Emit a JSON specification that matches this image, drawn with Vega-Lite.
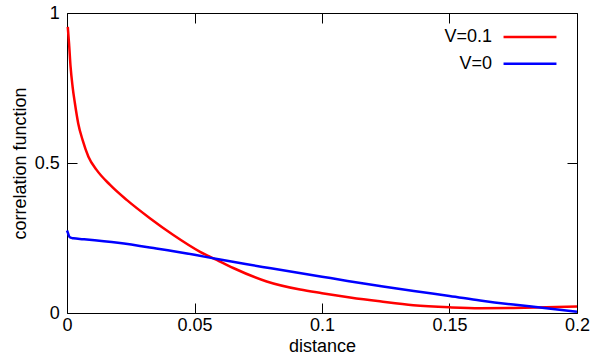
{
  "$schema": "https://vega.github.io/schema/vega-lite/v6.json",
  "width": 510,
  "height": 300,
  "autosize": {"type": "none"},
  "padding": {"left": 67, "top": 13, "right": 15, "bottom": 41},
  "background": "white",
  "config": {
    "view": {"stroke": "black", "strokeWidth": 1},
    "font": "Liberation Sans",
    "axis": {
      "grid": false,
      "domain": false,
      "tickColor": "black",
      "tickSize": -10,
      "tickWidth": 1,
      "labelColor": "black",
      "labelFontSize": 18,
      "labelFont": "Liberation Sans",
      "titleFontSize": 18,
      "titleFont": "Liberation Sans",
      "titleFontWeight": "normal",
      "titleColor": "black"
    }
  },
  "data": {
    "values": [
      {"distance": 0.0003, "value": 0.954, "series": "V=0.1"},
      {"distance": 0.0008, "value": 0.899, "series": "V=0.1"},
      {"distance": 0.0014, "value": 0.821, "series": "V=0.1"},
      {"distance": 0.0022, "value": 0.754, "series": "V=0.1"},
      {"distance": 0.0031, "value": 0.699, "series": "V=0.1"},
      {"distance": 0.0044, "value": 0.632, "series": "V=0.1"},
      {"distance": 0.0061, "value": 0.577, "series": "V=0.1"},
      {"distance": 0.0084, "value": 0.521, "series": "V=0.1"},
      {"distance": 0.0116, "value": 0.477, "series": "V=0.1"},
      {"distance": 0.0169, "value": 0.427, "series": "V=0.1"},
      {"distance": 0.0234, "value": 0.377, "series": "V=0.1"},
      {"distance": 0.0325, "value": 0.316, "series": "V=0.1"},
      {"distance": 0.0417, "value": 0.26, "series": "V=0.1"},
      {"distance": 0.0522, "value": 0.204, "series": "V=0.1"},
      {"distance": 0.0587, "value": 0.177, "series": "V=0.1"},
      {"distance": 0.0652, "value": 0.15, "series": "V=0.1"},
      {"distance": 0.0783, "value": 0.105, "series": "V=0.1"},
      {"distance": 0.0914, "value": 0.078, "series": "V=0.1"},
      {"distance": 0.1, "value": 0.066, "series": "V=0.1"},
      {"distance": 0.111, "value": 0.052, "series": "V=0.1"},
      {"distance": 0.1227, "value": 0.039, "series": "V=0.1"},
      {"distance": 0.1358, "value": 0.026, "series": "V=0.1"},
      {"distance": 0.15, "value": 0.019, "series": "V=0.1"},
      {"distance": 0.162, "value": 0.016, "series": "V=0.1"},
      {"distance": 0.175, "value": 0.017, "series": "V=0.1"},
      {"distance": 0.188, "value": 0.019, "series": "V=0.1"},
      {"distance": 0.2, "value": 0.022, "series": "V=0.1"},
      {"distance": 0, "value": 0.275, "series": "V=0"},
      {"distance": 0.0004, "value": 0.266, "series": "V=0"},
      {"distance": 0.0008, "value": 0.256, "series": "V=0"},
      {"distance": 0.0014, "value": 0.251, "series": "V=0"},
      {"distance": 0.0025, "value": 0.249, "series": "V=0"},
      {"distance": 0.0064, "value": 0.246, "series": "V=0"},
      {"distance": 0.02, "value": 0.234, "series": "V=0"},
      {"distance": 0.035, "value": 0.215, "series": "V=0"},
      {"distance": 0.05, "value": 0.194, "series": "V=0"},
      {"distance": 0.06, "value": 0.178, "series": "V=0"},
      {"distance": 0.07, "value": 0.163, "series": "V=0"},
      {"distance": 0.08, "value": 0.149, "series": "V=0"},
      {"distance": 0.09, "value": 0.135, "series": "V=0"},
      {"distance": 0.1, "value": 0.121, "series": "V=0"},
      {"distance": 0.11, "value": 0.107, "series": "V=0"},
      {"distance": 0.1227, "value": 0.09, "series": "V=0"},
      {"distance": 0.136, "value": 0.073, "series": "V=0"},
      {"distance": 0.15, "value": 0.057, "series": "V=0"},
      {"distance": 0.162, "value": 0.042, "series": "V=0"},
      {"distance": 0.175, "value": 0.028, "series": "V=0"},
      {"distance": 0.188, "value": 0.016, "series": "V=0"},
      {"distance": 0.2, "value": 0.004, "series": "V=0"}
    ]
  },
  "layer": [
    {
      "mark": {"type": "line", "strokeWidth": 2.5, "interpolate": "monotone"},
      "encoding": {
        "x": {
          "field": "distance", "type": "quantitative",
          "scale": {"domain": [0, 0.2], "nice": false, "zero": false},
          "axis": {"orient": "bottom", "title": "distance", "values": [0, 0.05, 0.1, 0.15, 0.2], "format": "~g", "labelPadding": 13, "titlePadding": 3, "labelFlush": false}
        },
        "y": {
          "field": "value", "type": "quantitative",
          "scale": {"domain": [0, 1], "nice": false},
          "axis": {"orient": "left", "title": "correlation function", "values": [0, 0.5, 1], "format": "~g", "labelPadding": 17.7, "titlePadding": 5, "labelFlush": false}
        },
        "color": {
          "field": "series", "type": "nominal",
          "scale": {"domain": ["V=0.1", "V=0"], "range": ["#ff0000", "#0000ff"]},
          "legend": {
            "orient": "none", "legendX": 454, "legendY": 15, "title": null,
            "symbolType": "M-10,0H10", "symbolSize": 28, "symbolStrokeWidth": 2.5,
            "labelAlign": "right", "labelOffset": -47, "labelFontSize": 18,
            "labelFont": "Liberation Sans", "labelColor": "black",
            "rowPadding": 8.7, "padding": 0
          }
        }
      }
    },
    {
      "mark": {"type": "line", "opacity": 0},
      "encoding": {
        "x": {
          "field": "distance", "type": "quantitative",
          "axis": {"orient": "top", "title": null, "labels": false, "values": [0, 0.05, 0.1, 0.15, 0.2]}
        },
        "y": {
          "field": "value", "type": "quantitative",
          "axis": {"orient": "right", "title": null, "labels": false, "values": [0, 0.5, 1]}
        },
        "detail": {"field": "series", "type": "nominal"}
      }
    }
  ],
  "resolve": {"axis": {"x": "independent", "y": "independent"}}
}
